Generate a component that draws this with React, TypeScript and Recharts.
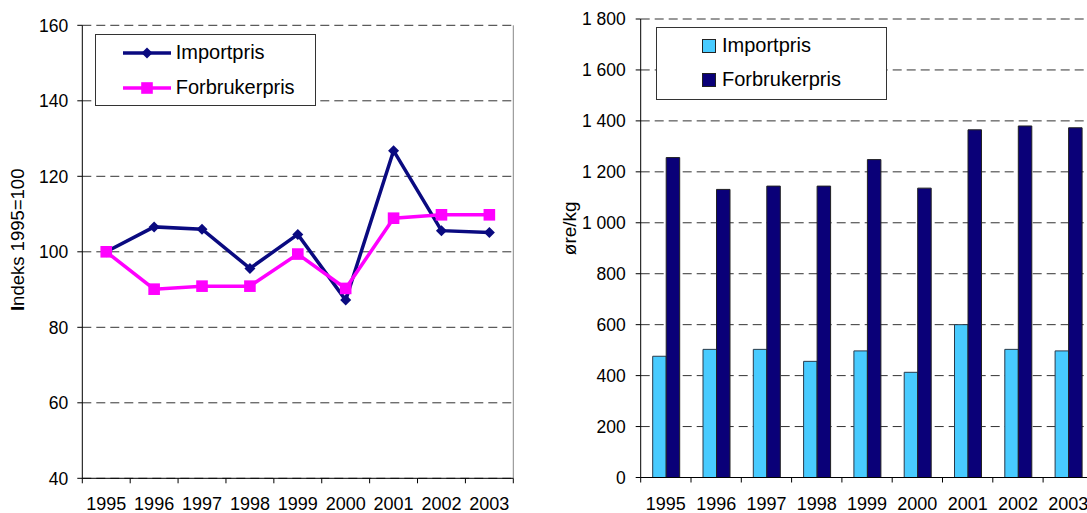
import React from "react";
import {
  LineChart,
  Line,
  BarChart,
  Bar,
  XAxis,
  YAxis,
  CartesianGrid,
  Legend,
  ReferenceLine,
  Label,
} from "recharts";

const YEARS = ["1995", "1996", "1997", "1998", "1999", "2000", "2001", "2002", "2003"];

// indeks 1995=100
const IMPORT_INDEX = [100, 106.6, 106.0, 95.6, 104.6, 87.2, 126.8, 105.6, 105.1];
const CONSUMER_INDEX = [100, 90.1, 90.9, 90.9, 99.4, 90.3, 108.9, 109.8, 109.8];

// øre/kg
const IMPORT_ORE = [476, 503, 503, 456, 497, 413, 600, 503, 497];
const CONSUMER_ORE = [1256, 1131, 1144, 1144, 1248, 1136, 1365, 1380, 1373];

const INDEX_TICKS = [40, 60, 80, 100, 120, 140, 160];
const ORE_TICKS = [0, 200, 400, 600, 800, 1000, 1200, 1400, 1600, 1800];
const SERIES_ORDER = ["Importpris", "Forbrukerpris"];

const FONT = "'Liberation Sans', Arial, Helvetica, sans-serif";
const NAVY = "#0A0A80";
const MAGENTA = "#FF00FF";
const SKY = "#48CBFF";
const BAR_NAVY = "#0A0078";
const GRID = "#333";

const indexData = YEARS.map((year, i) => ({
  year,
  Importpris: IMPORT_INDEX[i],
  Forbrukerpris: CONSUMER_INDEX[i],
}));

const oreData = YEARS.map((year, i) => ({
  year,
  Importpris: IMPORT_ORE[i],
  Forbrukerpris: CONSUMER_ORE[i],
}));

const fmtOre = (v: number) =>
  v >= 1000 ? `${Math.floor(v / 1000)} ${String(v % 1000).padStart(3, "0")}` : String(v);

const ordered = (payload: any[] = []) =>
  [...payload].sort((a, b) => SERIES_ORDER.indexOf(a.dataKey) - SERIES_ORDER.indexOf(b.dataKey));

function Diamond({ cx, cy, fill }: any) {
  const r = 5.5;
  return <path d={`M${cx},${cy - r}L${cx + r},${cy}L${cx},${cy + r}L${cx - r},${cy}Z`} fill={fill} />;
}

function Square({ cx, cy, fill }: any) {
  const s = 5.8;
  return <rect x={cx - s} y={cy - s} width={2 * s} height={2 * s} fill={fill} />;
}

// Excel style: tick marks between categories, labels in the middle
function YearTick(props: any) {
  const { x, y, payload, index, visibleTicksCount } = props;
  const half = payload?.offset ?? 0;
  return (
    <g>
      <line x1={x - half} y1={y} x2={x - half} y2={y + 5} stroke="#000" />
      {index === visibleTicksCount - 1 && (
        <line x1={x + half} y1={y} x2={x + half} y2={y + 5} stroke="#000" />
      )}
      <text x={x} y={y + 32} textAnchor="middle" fontSize={18} fill="#000">
        {payload.value}
      </text>
    </g>
  );
}

function LineLegend({ payload }: any) {
  return (
    <div
      style={{
        width: 221,
        height: 72,
        border: "1px solid #333",
        background: "#fff",
        boxSizing: "border-box",
        position: "relative",
        fontFamily: FONT,
      }}
    >
      {ordered(payload).map((e: any, i: number) => (
        <div
          key={e.value}
          style={{ position: "absolute", left: 27, top: 5.7 + i * 35, height: 24, display: "flex", alignItems: "center" }}
        >
          <svg width={48} height={14}>
            <line x1={0} y1={7} x2={48} y2={7} stroke={e.color} strokeWidth={3.5} />
            {e.dataKey === "Importpris" ? <Diamond cx={24} cy={7} fill={e.color} /> : <Square cx={24} cy={7} fill={e.color} />}
          </svg>
          <span style={{ marginLeft: 5, fontSize: 20, color: "#000" }}>{e.value}</span>
        </div>
      ))}
    </div>
  );
}

function BarLegend({ payload }: any) {
  return (
    <div
      style={{
        width: 231,
        height: 73,
        border: "1px solid #333",
        background: "#fff",
        boxSizing: "border-box",
        position: "relative",
        fontFamily: FONT,
      }}
    >
      {ordered(payload).map((e: any, i: number) => (
        <div
          key={e.value}
          style={{ position: "absolute", left: 45, top: 5.7 + i * 34, height: 24, display: "flex", alignItems: "center" }}
        >
          <span style={{ width: 14, height: 14, background: e.color, border: "1px solid #222", boxSizing: "border-box" }} />
          <span style={{ marginLeft: 6, fontSize: 20, color: "#000" }}>{e.value}</span>
        </div>
      ))}
    </div>
  );
}

export default function App() {
  return (
    <div style={{ position: "relative", width: 1087, height: 513, overflow: "hidden", background: "#fff", fontFamily: FONT }}>
      <style>{`body{margin:0}`}</style>

      <div style={{ position: "absolute", left: 0, top: 0 }}>
        <LineChart width={540} height={513} data={indexData} margin={{ top: 25.3, right: 26.7, bottom: 0, left: 0 }}>
          <CartesianGrid vertical={false} stroke={GRID} strokeDasharray="9 5" />
          <XAxis
            dataKey="year"
            scale="band"
            height={34.7}
            tickSize={0}
            tickMargin={0}
            tick={<YearTick />}
            axisLine={{ stroke: "#000" }}
            interval={0}
          />
          <YAxis
            domain={[40, 160]}
            ticks={INDEX_TICKS}
            width={82.3}
            tickSize={5}
            tickMargin={9}
            tick={{ fontSize: 17.5, fill: "#000" }}
            axisLine={{ stroke: "#000" }}
            tickLine={{ stroke: "#000" }}
          >
            <Label
              content={(p: any) => {
                const vb = p.viewBox || { x: 0, y: 25, width: 82, height: 453 };
                const cx = vb.x + 17;
                const cy = vb.y + vb.height / 2 - 12;
                return (
                  <text
                    transform={`translate(${cx},${cy}) rotate(-90)`}
                    textAnchor="middle"
                    dominantBaseline="central"
                    fontSize={18.5}
                    fill="#000"
                  >
                    <tspan fontWeight="bold">I</tspan>
                    <tspan>ndeks 1995=100</tspan>
                  </text>
                );
              }}
            />
          </YAxis>
          <ReferenceLine x="2003" position="end" stroke="#888" />
          <Legend
            layout="horizontal"
            verticalAlign="middle"
            align="center"
            content={<LineLegend />}
            wrapperStyle={{ left: 94.7, top: 34.3, width: 221, height: 72 }}
          />
          <Line
            dataKey="Importpris"
            stroke={NAVY}
            strokeWidth={3.5}
            isAnimationActive={false}
            dot={(p: any) => <Diamond key={`d${p.index}`} cx={p.cx} cy={p.cy} fill={NAVY} />}
            activeDot={false}
          />
          <Line
            dataKey="Forbrukerpris"
            stroke={MAGENTA}
            strokeWidth={3.5}
            isAnimationActive={false}
            dot={(p: any) => <Square key={`s${p.index}`} cx={p.cx} cy={p.cy} fill={MAGENTA} />}
            activeDot={false}
          />
        </LineChart>
      </div>

      <div style={{ position: "absolute", left: 540, top: 0 }}>
        <BarChart
          width={560}
          height={513}
          data={oreData}
          margin={{ top: 19, right: 6.6, bottom: 0, left: 0 }}
          barGap={0}
        >
          <CartesianGrid vertical={false} stroke={GRID} strokeDasharray="9 5" />
          <XAxis
            dataKey="year"
            height={35.5}
            tickSize={0}
            tickMargin={0}
            tick={<YearTick />}
            axisLine={{ stroke: "#000" }}
            interval={0}
          />
          <YAxis
            domain={[0, 1800]}
            ticks={ORE_TICKS}
            width={100.7}
            tickSize={5}
            tickMargin={10}
            tickFormatter={fmtOre}
            tick={{ fontSize: 17.5, fill: "#000" }}
            axisLine={{ stroke: "#000" }}
            tickLine={{ stroke: "#000" }}
          >
            <Label
              content={(p: any) => {
                const vb = p.viewBox || { x: 0, y: 19, width: 100, height: 458 };
                const cx = vb.x + 29.5;
                const cy = vb.y + vb.height / 2 - 20;
                return (
                  <text
                    transform={`translate(${cx},${cy}) rotate(-90)`}
                    textAnchor="middle"
                    dominantBaseline="central"
                    fontSize={19}
                    fill="#000"
                  >
                    øre/kg
                  </text>
                );
              }}
            />
          </YAxis>
          <Legend
            layout="horizontal"
            verticalAlign="middle"
            align="center"
            content={<BarLegend />}
            wrapperStyle={{ left: 116, top: 27.3, width: 231, height: 73 }}
          />
          <Bar dataKey="Importpris" fill={SKY} stroke="#2a3a4a" strokeWidth={1} barSize={13.5} isAnimationActive={false} />
          <Bar dataKey="Forbrukerpris" fill={BAR_NAVY} stroke="#222" strokeWidth={1} barSize={13.5} isAnimationActive={false} />
        </BarChart>
      </div>
    </div>
  );
}
